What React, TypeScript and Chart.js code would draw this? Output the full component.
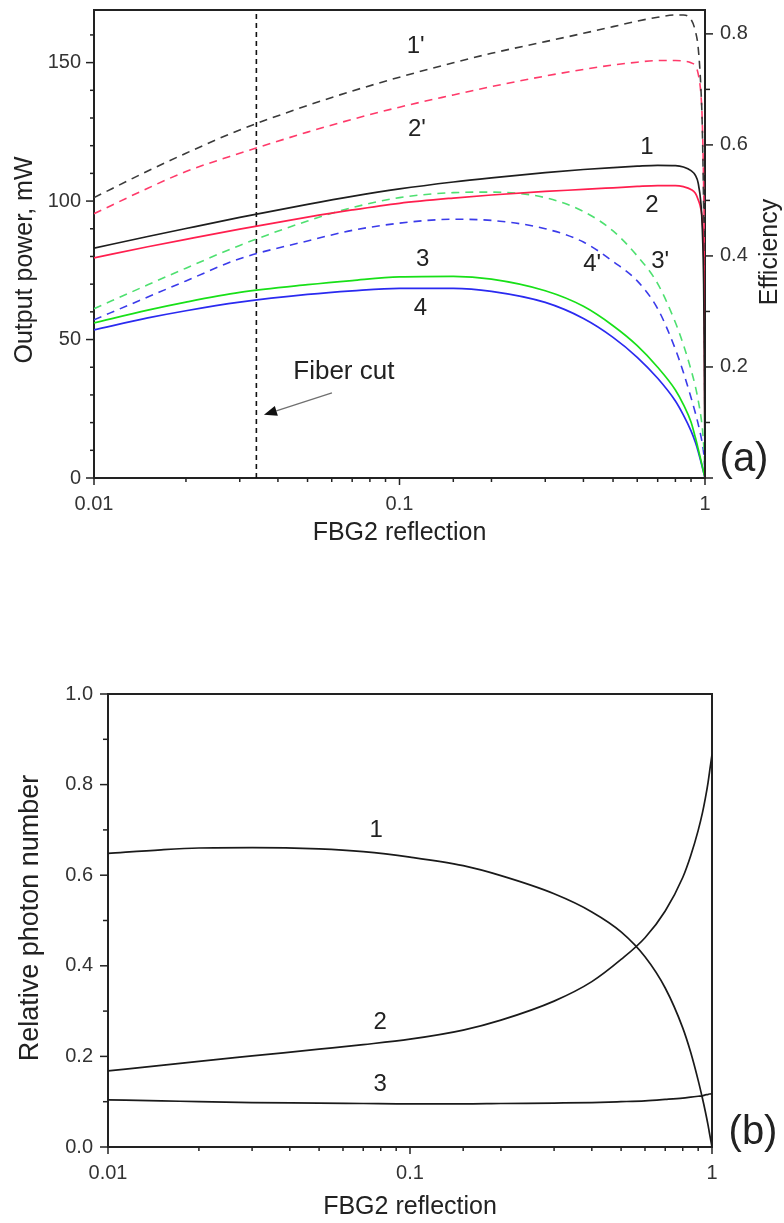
import React, { useEffect, useRef } from 'react';
import { Chart, registerables } from 'chart.js';

Chart.register(...registerables);

const FONT = '"Liberation Sans", Arial, Helvetica, sans-serif';
const INK = '#222222';
const TICK_INK = '#333333';

// FBG2 reflection sample points shared by every curve
const reflection = [0.01, 0.015, 0.02, 0.03, 0.05, 0.07, 0.1, 0.15, 0.2, 0.3, 0.4, 0.5, 0.6, 0.7, 0.8, 0.85, 0.9, 0.93, 0.95, 0.97, 0.98, 0.99, 0.995, 1.0];

// Panel (a): output power, mW (left axis), curves 1-4
const power1 = [83, 87.2, 90.1, 94.1, 98.8, 101.7, 104.4, 106.9, 108.4, 110.3, 111.4, 112.1, 112.6, 112.9, 112.8, 112.3, 111.0, 109.3, 106.5, 99, 90, 70, 45, 0];
const power2 = [79.5, 83.5, 86.2, 89.9, 94.2, 96.8, 99.2, 101.1, 102.2, 103.5, 104.2, 104.8, 105.3, 105.6, 105.6, 105.2, 104.2, 102.8, 100.5, 97, 93, 82, 62, 0];
const power3 = [56, 60.6, 63.5, 67, 69.8, 71.3, 72.6, 72.8, 71.8, 67.6, 62.0, 55.0, 47.8, 40.0, 31.8, 26.5, 20.2, 14.6, 10.5, 6.3, 4.2, 2.1, 1.05, 0];
const power4 = [53.5, 57.8, 60.4, 63.5, 66.3, 67.6, 68.5, 68.5, 67.4, 63.4, 57.6, 50.8, 43.6, 36.0, 27.8, 22.7, 17.0, 12.9, 9.6, 5.8, 3.9, 1.95, 1.0, 0];

// Panel (a): efficiency (right axis), curves 1'-4'
const eff1 = [0.505, 0.553, 0.585, 0.627, 0.671, 0.697, 0.722, 0.748, 0.765, 0.786, 0.801, 0.813, 0.823, 0.83, 0.834, 0.834, 0.826, 0.805, 0.775, 0.70, 0.63, 0.48, 0.35, 0];
const eff2 = [0.476, 0.522, 0.552, 0.585, 0.623, 0.646, 0.668, 0.69, 0.705, 0.724, 0.736, 0.744, 0.749, 0.752, 0.752, 0.751, 0.748, 0.742, 0.728, 0.69, 0.64, 0.52, 0.40, 0];
const eff3 = [0.305, 0.348, 0.378, 0.419, 0.463, 0.487, 0.505, 0.514, 0.515, 0.505, 0.48, 0.445, 0.40, 0.35, 0.28, 0.24, 0.195, 0.165, 0.14, 0.11, 0.09, 0.06, 0.04, 0];
const eff4 = [0.285, 0.326, 0.355, 0.395, 0.427, 0.446, 0.459, 0.466, 0.464, 0.449, 0.425, 0.39, 0.355, 0.305, 0.232, 0.19, 0.145, 0.117, 0.097, 0.075, 0.062, 0.045, 0.03, 0];

// Panel (b): relative photon number, curves 1-3
const photon1 = [0.648, 0.656, 0.66, 0.661, 0.658, 0.652, 0.64, 0.621, 0.599, 0.559, 0.519, 0.475, 0.42, 0.351, 0.263, 0.209, 0.147, 0.107, 0.079, 0.049, 0.032, 0.016, 0.008, 0];
const photon2 = [0.168, 0.18, 0.189, 0.201, 0.216, 0.226, 0.238, 0.258, 0.28, 0.322, 0.365, 0.414, 0.462, 0.521, 0.595, 0.643, 0.699, 0.738, 0.769, 0.804, 0.825, 0.846, 0.856, 0.866];
const photon3 = [0.104, 0.102, 0.1, 0.098, 0.097, 0.096, 0.095, 0.095, 0.096, 0.097, 0.098, 0.1, 0.102, 0.105, 0.108, 0.11, 0.112, 0.113, 0.115, 0.116, 0.117, 0.117, 0.118, 0.118];

// Fiber cut position on the reflection axis
const fiberCut = 0.034;

// Axis ranges and tick labels
const xTickValues = [0.01, 0.1, 1];
const xTickLabels = ['0.01', '0.1', '1'];
const powerMax = 169;
const powerTickValues = [0, 50, 100, 150];
const powerTickLabels = ['0', '50', '100', '150'];
const effMax = 0.843;
const effTickValues = [0.2, 0.4, 0.6, 0.8];
const effTickLabels = ['0.2', '0.4', '0.6', '0.8'];
const photonTickValues = [0, 0.2, 0.4, 0.6, 0.8, 1.0];
const photonTickLabels = ['0.0', '0.2', '0.4', '0.6', '0.8', '1.0'];

// Curve labels anchored in data coordinates: [text, reflection, value]
const powerCurveLabels: [string, number, number][] = [
  ['1', 0.646, 119.3],
  ['2', 0.67, 98.3],
  ['3', 0.119, 79.1],
  ['4', 0.117, 61.4],
  ["1'", 0.113, 155.8],
  ["2'", 0.114, 125.8],
  ["4'", 0.427, 77.3],
  ["3'", 0.713, 78.4],
];
const photonCurveLabels: [string, number, number][] = [
  ['1', 0.0772, 0.698],
  ['2', 0.0796, 0.276],
  ['3', 0.0796, 0.139],
];

const near = (a: number, b: number) => Math.abs(a - b) <= 1e-9 + 1e-6 * Math.abs(b);
const labelFor = (values: number[], labels: string[], v: number) => {
  const i = values.findIndex((t) => near(v, t));
  return i >= 0 ? labels[i] : '';
};
const isDecade = (v: number) => Math.abs(Math.log10(v) - Math.round(Math.log10(v))) < 1e-6;
const isMultiple = (step: number) => (v: number) => Math.abs(v / step - Math.round(v / step)) < 1e-6;

const series = (ys: number[]) => reflection.map((x, i) => ({ x, y: ys[i] }));

type Side = 'left' | 'right' | 'bottom';
type AxisTicks = { id: string; side: Side; isMajor: (v: number) => boolean; major: number; minor: number };

// Box frame plus outward tick marks, drawn under the curves
function framePlugin(id: string, axes: AxisTicks[], frameWidth: number) {
  return {
    id,
    beforeDatasetsDraw(chart: any) {
      const { ctx, chartArea: a } = chart;
      ctx.save();
      ctx.strokeStyle = INK;
      ctx.lineWidth = frameWidth;
      ctx.strokeRect(a.left, a.top, a.right - a.left, a.bottom - a.top);
      ctx.lineWidth = 1.5;
      for (const ax of axes) {
        const s = chart.scales[ax.id];
        for (const t of s.ticks) {
          const p = s.getPixelForValue(t.value);
          const len = ax.isMajor(t.value) ? ax.major : ax.minor;
          ctx.beginPath();
          if (ax.side === 'left') {
            ctx.moveTo(a.left, p);
            ctx.lineTo(a.left - len, p);
          } else if (ax.side === 'right') {
            ctx.moveTo(a.right, p);
            ctx.lineTo(a.right + len, p);
          } else {
            ctx.moveTo(p, a.bottom);
            ctx.lineTo(p, a.bottom + len);
          }
          ctx.stroke();
        }
      }
      ctx.restore();
    },
  };
}

function drawText(ctx: CanvasRenderingContext2D, text: string, x: number, y: number, size: number, rotate = false, align: CanvasTextAlign = 'center') {
  ctx.save();
  ctx.font = `${size}px ${FONT}`;
  ctx.fillStyle = INK;
  ctx.textAlign = align;
  ctx.textBaseline = 'middle';
  ctx.translate(x, y);
  if (rotate) ctx.rotate(-Math.PI / 2);
  ctx.fillText(text, 0, 0);
  ctx.restore();
}

const tickFont = { family: FONT, size: 20 };
const hiddenGrid = { display: false, drawTicks: false, tickLength: 0 };

// Fix an axis box size and drop the label overflow padding
const fixWidth = (w: number) => (s: any) => {
  s.width = w;
  s.paddingTop = 0;
  s.paddingBottom = 0;
};
const fixHeight = (h: number) => (s: any) => {
  s.height = h;
  s.paddingLeft = 0;
  s.paddingRight = 0;
};

function buildPower(canvas: HTMLCanvasElement) {
  const annotations = {
    id: 'powerText',
    afterDraw(chart: any) {
      const { ctx, chartArea: a, scales } = chart;
      const x = scales.x;
      const y = scales.y;
      for (const [t, rx, v] of powerCurveLabels) {
        drawText(ctx, t, x.getPixelForValue(rx), y.getPixelForValue(v), 24);
      }
      // Fiber cut callout
      const tx = x.getPixelForValue(0.0449);
      const ty = y.getPixelForValue(38.5);
      drawText(ctx, 'Fiber cut', tx, ty, 26, false, 'left');
      const sx = x.getPixelForValue(0.0601);
      const sy = y.getPixelForValue(30.7);
      const ex = x.getPixelForValue(0.036);
      const ey = y.getPixelForValue(22.8);
      const ang = Math.atan2(ey - sy, ex - sx);
      const head = 13;
      const bx = ex - head * Math.cos(ang);
      const by = ey - head * Math.sin(ang);
      ctx.save();
      ctx.strokeStyle = '#707070';
      ctx.lineWidth = 1.3;
      ctx.beginPath();
      ctx.moveTo(sx, sy);
      ctx.lineTo(bx, by);
      ctx.stroke();
      ctx.fillStyle = '#111';
      ctx.beginPath();
      ctx.moveTo(ex, ey);
      ctx.lineTo(bx + 5 * Math.sin(ang), by - 5 * Math.cos(ang));
      ctx.lineTo(bx - 5 * Math.sin(ang), by + 5 * Math.cos(ang));
      ctx.closePath();
      ctx.fill();
      ctx.restore();
      // Axis titles and panel tag
      drawText(ctx, 'Output power, mW', 25, 260, 25, true);
      drawText(ctx, 'Efficiency', 770, 252, 25, true);
      drawText(ctx, 'FBG2 reflection', (a.left + a.right) / 2, 533, 25);
      drawText(ctx, '(a)', a.right + 39, a.bottom - 18, 40);
    },
  };

  const solid = (label: string, ys: number[], color: string) => ({
    label,
    data: series(ys),
    yAxisID: 'y',
    borderColor: color,
    borderWidth: 1.7,
  });
  const dashed = (label: string, ys: number[], color: string) => ({
    label,
    data: series(ys),
    yAxisID: 'y2',
    borderColor: color,
    borderWidth: 1.6,
    borderDash: [8, 6],
  });

  return new Chart(canvas, {
    type: 'line',
    data: {
      datasets: [
        solid('1', power1, '#1e1e1e'),
        solid('2', power2, '#ff1f4e'),
        solid('3', power3, '#18e018'),
        solid('4', power4, '#2a2af0'),
        dashed("1'", eff1, '#3a3a3a'),
        dashed("2'", eff2, '#ff3a6a'),
        dashed("3'", eff3, '#4ee070'),
        dashed("4'", eff4, '#3b3bea'),
        {
          label: 'Fiber cut',
          data: [{ x: fiberCut, y: 0 }, { x: fiberCut, y: powerMax }],
          yAxisID: 'y',
          borderColor: '#111',
          borderWidth: 1.6,
          borderDash: [5, 4],
          tension: 0,
          cubicInterpolationMode: 'default',
        },
      ] as any,
    },
    options: {
      animation: false,
      responsive: false,
      maintainAspectRatio: false,
      devicePixelRatio: 1,
      layout: { padding: { top: 10, left: 0, right: 0, bottom: 0 } },
      elements: { point: { radius: 0 }, line: { cubicInterpolationMode: 'monotone' } },
      plugins: { legend: { display: false }, tooltip: { enabled: false } },
      scales: {
        x: {
          type: 'logarithmic',
          position: 'bottom',
          min: 0.01,
          max: 1,
          grid: hiddenGrid,
          border: { display: false },
          ticks: {
            autoSkip: false,
            maxRotation: 0,
            padding: 14,
            color: TICK_INK,
            font: tickFont,
            callback: (v: any) => labelFor(xTickValues, xTickLabels, Number(v)),
          },
          afterFit: fixHeight(82),
        },
        y: {
          type: 'linear',
          position: 'left',
          min: 0,
          max: powerMax,
          grid: hiddenGrid,
          border: { display: false },
          ticks: {
            stepSize: 10,
            includeBounds: false,
            autoSkip: false,
            padding: 13,
            color: TICK_INK,
            font: tickFont,
            callback: (v: any) => labelFor(powerTickValues, powerTickLabels, Number(v)),
          },
          afterFit: fixWidth(94),
        },
        y2: {
          type: 'linear',
          position: 'right',
          min: 0,
          max: effMax,
          grid: hiddenGrid,
          border: { display: false },
          ticks: {
            stepSize: 0.1,
            includeBounds: false,
            autoSkip: false,
            padding: 15,
            color: TICK_INK,
            font: tickFont,
            callback: (v: any) => labelFor(effTickValues, effTickLabels, Number(v)),
          },
          afterFit: fixWidth(79),
        },
      },
    } as any,
    plugins: [
      framePlugin('powerFrame', [
        { id: 'x', side: 'bottom', isMajor: isDecade, major: 7, minor: 4 },
        { id: 'y', side: 'left', isMajor: isMultiple(50), major: 8, minor: 4 },
        { id: 'y2', side: 'right', isMajor: isMultiple(0.2), major: 8, minor: 5 },
      ], 2),
      annotations,
    ],
  });
}

function buildPhoton(canvas: HTMLCanvasElement) {
  const annotations = {
    id: 'photonText',
    afterDraw(chart: any) {
      const { ctx, chartArea: a, scales } = chart;
      for (const [t, rx, v] of photonCurveLabels) {
        drawText(ctx, t, scales.x.getPixelForValue(rx), scales.y.getPixelForValue(v), 24);
      }
      drawText(ctx, 'Relative photon number', 31, 358, 27, true);
      drawText(ctx, 'FBG2 reflection', (a.left + a.right) / 2, 647, 25);
      drawText(ctx, '(b)', a.right + 41, a.bottom - 14, 40);
    },
  };

  const curve = (label: string, ys: number[]) => ({
    label,
    data: series(ys),
    borderColor: '#1a1a1a',
    borderWidth: 1.7,
  });

  return new Chart(canvas, {
    type: 'line',
    data: { datasets: [curve('1', photon1), curve('2', photon2), curve('3', photon3)] as any },
    options: {
      animation: false,
      responsive: false,
      maintainAspectRatio: false,
      devicePixelRatio: 1,
      layout: { padding: { top: 134, left: 0, right: 72, bottom: 0 } },
      elements: { point: { radius: 0 }, line: { cubicInterpolationMode: 'monotone' } },
      plugins: { legend: { display: false }, tooltip: { enabled: false } },
      scales: {
        x: {
          type: 'logarithmic',
          position: 'bottom',
          min: 0.01,
          max: 1,
          grid: hiddenGrid,
          border: { display: false },
          ticks: {
            autoSkip: false,
            maxRotation: 0,
            padding: 14,
            color: TICK_INK,
            font: tickFont,
            callback: (v: any) => labelFor(xTickValues, xTickLabels, Number(v)),
          },
          afterFit: fixHeight(76),
        },
        y: {
          type: 'linear',
          position: 'left',
          min: 0,
          max: 1,
          grid: hiddenGrid,
          border: { display: false },
          ticks: {
            stepSize: 0.1,
            includeBounds: false,
            autoSkip: false,
            padding: 15,
            color: TICK_INK,
            font: tickFont,
            callback: (v: any) => labelFor(photonTickValues, photonTickLabels, Number(v)),
          },
          afterFit: fixWidth(108),
        },
      },
    } as any,
    plugins: [
      framePlugin('photonFrame', [
        { id: 'x', side: 'bottom', isMajor: isDecade, major: 7, minor: 4 },
        { id: 'y', side: 'left', isMajor: isMultiple(0.2), major: 8, minor: 5 },
      ], 2),
      annotations,
    ],
  });
}

function ChartCanvas({ height, build }: { height: number; build: (c: HTMLCanvasElement) => Chart }) {
  const ref = useRef<HTMLCanvasElement>(null);
  useEffect(() => {
    const chart = build(ref.current as HTMLCanvasElement);
    return () => chart.destroy();
  }, [build]);
  return <canvas ref={ref} width={784} height={height} style={{ display: 'block', width: 784, height }} />;
}

export default function App() {
  return (
    <div style={{ position: 'absolute', left: 0, top: 0, width: 784, height: 1223, background: '#fff', overflow: 'hidden' }}>
      <ChartCanvas height={560} build={buildPower} />
      <ChartCanvas height={663} build={buildPhoton} />
    </div>
  );
}
